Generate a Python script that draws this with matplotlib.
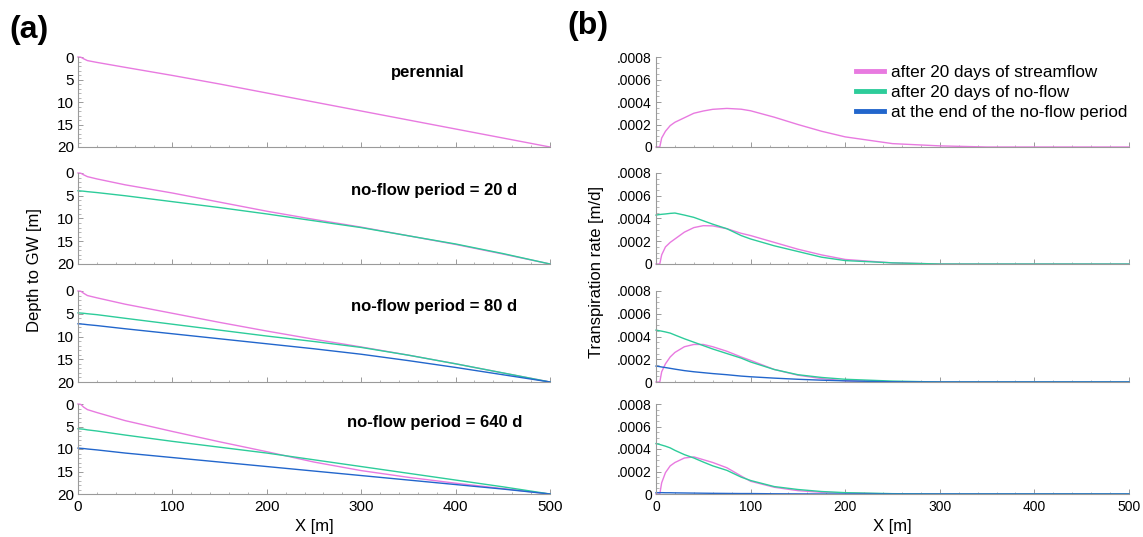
import matplotlib
matplotlib.use("Agg")
import matplotlib.pyplot as plt
from matplotlib.ticker import MultipleLocator, FuncFormatter

plt.rcParams['font.family'] = ['Liberation Sans', 'DejaVu Sans']

PINK = "#e87ae0"
GREEN = "#2dcc9a"
BLUE = "#2266cc"

# ---- depth to groundwater (left column) ----
x_depth = [0, 3, 6, 10, 20, 50, 100, 150, 200, 250, 300, 350, 400, 450, 500]

depth_perennial = [0, 0.05, 0.4, 0.8, 1.2, 2.3, 4.1, 6.0, 8.0, 10.0, 12.0, 14.0, 16.0, 18.0, 20.0]

depth_20_stream = [0, 0.05, 0.4, 0.8, 1.3, 2.6, 4.4, 6.4, 8.4, 10.2, 11.9, 13.8, 15.7, 17.8, 20.0]
depth_20_noflow = [3.9, 3.95, 4.0, 4.1, 4.3, 5.0, 6.3, 7.6, 9.0, 10.5, 12.0, 13.8, 15.6, 17.7, 20.0]

depth_80_stream = [0, 0.05, 0.5, 1.0, 1.5, 2.9, 4.9, 6.9, 8.8, 10.6, 12.3, 14.1, 16.0, 18.0, 20.0]
depth_80_noflow = [4.8, 4.85, 4.9, 5.0, 5.2, 6.0, 7.3, 8.6, 9.9, 11.1, 12.4, 14.1, 16.0, 18.0, 20.0]
depth_80_end = [7.2, 7.25, 7.3, 7.4, 7.6, 8.3, 9.4, 10.5, 11.6, 12.7, 13.9, 15.3, 16.8, 18.4, 20.0]

depth_640_stream = [0, 0.1, 0.7, 1.25, 1.9, 3.7, 6.1, 8.4, 10.6, 12.9, 14.8, 16.3, 17.6, 18.8, 20.0]
depth_640_noflow = [5.5, 5.55, 5.6, 5.75, 6.0, 6.9, 8.3, 9.6, 10.9, 12.4, 13.9, 15.4, 16.9, 18.4, 20.0]
depth_640_end = [9.8, 9.85, 9.9, 10.0, 10.2, 10.9, 11.9, 12.9, 13.9, 14.9, 15.9, 16.9, 17.9, 18.9, 20.0]

# ---- transpiration rate (right column) ----
x_tr = [0, 4, 6, 10, 15, 20, 30, 40, 50, 60, 75, 90, 100, 125, 150, 175, 200, 250, 300, 350, 500]

tr_perennial = [0, 0, 0.00008, 0.00014, 0.00019, 0.00022, 0.00026, 0.0003, 0.00032, 0.000335, 0.000343,
                0.000336, 0.000322, 0.000265, 0.0002, 0.00014, 0.00009, 0.00003, 0.00001, 0, 0]

tr_20_stream = [0, 0, 0.00008, 0.00015, 0.00019, 0.00022, 0.00028, 0.00032, 0.000337, 0.000335, 0.00031,
                0.00027, 0.00025, 0.00019, 0.00013, 0.00008, 0.00004, 0.00001, 0, 0, 0]
tr_20_noflow = [0.00043, 0.000435, 0.000437, 0.00044, 0.000445, 0.000448, 0.00043, 0.00041, 0.00038, 0.00035,
                0.00031, 0.00025, 0.00022, 0.00016, 0.00011, 0.00006, 0.00003, 0.00001, 0, 0, 0]

tr_80_stream = [0, 0, 0.00009, 0.00016, 0.00022, 0.00026, 0.00031, 0.00033, 0.00033, 0.00031, 0.00027,
                0.00022, 0.00019, 0.00011, 0.00006, 0.00003, 0.00001, 0, 0, 0, 0]
tr_80_noflow = [0.000456, 0.00045, 0.000447, 0.00044, 0.00043, 0.000413, 0.00038, 0.00035, 0.00032, 0.00029,
                0.00025, 0.00021, 0.000176, 0.00011, 0.000064, 0.00004, 0.000024, 0.000008, 0, 0, 0]
tr_80_end = [0.00014, 0.000135, 0.000132, 0.000127, 0.00012, 0.000113, 0.0001, 0.00009, 0.000082, 0.000074,
             0.000064, 0.000052, 0.000046, 0.000034, 0.000024, 0.000016, 0.00001, 0.000002, 0, 0, 0]

tr_640_stream = [0, 0, 0.0001, 0.00019, 0.00025, 0.00028, 0.00032, 0.00033, 0.000305, 0.00028, 0.000233,
                 0.00016, 0.000113, 0.00006, 0.00003, 0.000015, 0.00001, 0, 0, 0, 0]
tr_640_noflow = [0.000448, 0.00044, 0.000435, 0.000425, 0.00041, 0.000388, 0.00035, 0.00032, 0.000284, 0.00025,
                 0.00021, 0.00015, 0.00012, 0.000066, 0.00004, 0.000022, 0.000012, 0.000003, 0, 0, 0]
tr_640_end = [0.000012, 0.000012, 0.000012, 0.000011, 0.000011, 0.00001, 0.000009, 0.000008, 0.000007, 0.000006,
              0.000005, 0.000004, 0.000004, 0.000002, 0.000001, 0, 0, 0, 0, 0, 0]

panel_titles = ["perennial", "no-flow period = 20 d", "no-flow period = 80 d", "no-flow period = 640 d"]
legend_labels = ["after 20 days of streamflow", "after 20 days of no-flow", "at the end of the no-flow period"]

depth_rows = [
    [(depth_perennial, PINK)],
    [(depth_20_stream, PINK), (depth_20_noflow, GREEN)],
    [(depth_80_stream, PINK), (depth_80_noflow, GREEN), (depth_80_end, BLUE)],
    [(depth_640_stream, PINK), (depth_640_noflow, GREEN), (depth_640_end, BLUE)],
]
tr_rows = [
    [(tr_perennial, PINK)],
    [(tr_20_stream, PINK), (tr_20_noflow, GREEN)],
    [(tr_80_stream, PINK), (tr_80_noflow, GREEN), (tr_80_end, BLUE)],
    [(tr_640_stream, PINK), (tr_640_noflow, GREEN), (tr_640_end, BLUE)],
]

W, H = 1143, 537
# pixel rows (top, bottom) of each panel
rows_px = [(57, 147), (173, 264), (291, 382), (404, 494)]
left_px = (78, 550)
right_px = (656, 1129)
title_y = [0.83, 0.81, 0.83, 0.79]
title_x = [0.74, 0.755, 0.755, 0.755]

SPINE = "#9a9a9a"


def make_axes(fig, xpx, ypx, labelsize):
    rect = [xpx[0] / W, 1 - ypx[1] / H, (xpx[1] - xpx[0]) / W, (ypx[1] - ypx[0]) / H]
    ax = fig.add_axes(rect)
    for s in ["top", "right"]:
        ax.spines[s].set_visible(False)
    for s in ["left", "bottom"]:
        ax.spines[s].set_color(SPINE)
        ax.spines[s].set_linewidth(0.8)
    ax.set_xlim(0, 500)
    ax.xaxis.set_major_locator(MultipleLocator(100))
    ax.xaxis.set_minor_locator(MultipleLocator(20))
    ax.tick_params(which="both", direction="in", color=SPINE, labelsize=labelsize)
    ax.tick_params(axis="x", pad=4)
    ax.tick_params(axis="y", pad=3)
    ax.tick_params(which="major", length=3.5, width=0.7)
    ax.tick_params(which="minor", length=1.8, width=0.5)
    return ax


fig = plt.figure(figsize=(W / 100, H / 100), dpi=100)

for i in range(4):
    # left column: depth to GW
    ax = make_axes(fig, left_px, rows_px[i], 11)
    for ys, c in depth_rows[i]:
        ax.plot(x_depth, ys, color=c, lw=1.0, clip_on=False)
    ax.set_ylim(20, 0)
    ax.yaxis.set_major_locator(MultipleLocator(5))
    ax.yaxis.set_minor_locator(MultipleLocator(1))
    if i < 3:
        ax.tick_params(axis="x", labelbottom=False)
    else:
        ax.set_xlabel("X [m]", fontsize=12, labelpad=4)
    ax.text(title_x[i], title_y[i], panel_titles[i], transform=ax.transAxes,
            ha="center", va="center", fontsize=12, fontweight="bold")

    # right column: transpiration rate
    ax2 = make_axes(fig, right_px, rows_px[i], 10)
    for ys, c in tr_rows[i]:
        ax2.plot(x_tr, ys, color=c, lw=1.0, clip_on=False)
    ax2.set_ylim(0, 0.0008)
    ax2.yaxis.set_major_locator(MultipleLocator(0.0002))
    ax2.yaxis.set_minor_locator(MultipleLocator(0.00005))
    ax2.yaxis.set_major_formatter(FuncFormatter(lambda v, p: "0" if abs(v) < 1e-12 else ("%.4f" % v).lstrip("0")))
    if i < 3:
        ax2.tick_params(axis="x", labelbottom=False)
    else:
        ax2.set_xlabel("X [m]", fontsize=12, labelpad=4)
    if i == 0:
        handles = [plt.Line2D([], [], color=c, lw=3.5) for c in (PINK, GREEN, BLUE)]
        ax2.legend(handles, legend_labels, loc="upper right", bbox_to_anchor=(1.01, 0.985),
                   frameon=False, fontsize=12.3, handlelength=1.6, handletextpad=0.4,
                   labelspacing=0.3, borderaxespad=0)

fig.text(35 / W, 1 - 270 / H, "Depth to GW [m]", rotation=90, ha="center", va="center", fontsize=12)
fig.text(597 / W, 1 - 272 / H, "Transpiration rate [m/d]", rotation=90, ha="center", va="center", fontsize=12)
fig.text(29 / W, 1 - 30 / H, "(a)", ha="center", va="center", fontsize=23, fontweight="bold")
fig.text(588 / W, 1 - 26 / H, "(b)", ha="center", va="center", fontsize=23, fontweight="bold")

fig.savefig("out.png", dpi=100)
